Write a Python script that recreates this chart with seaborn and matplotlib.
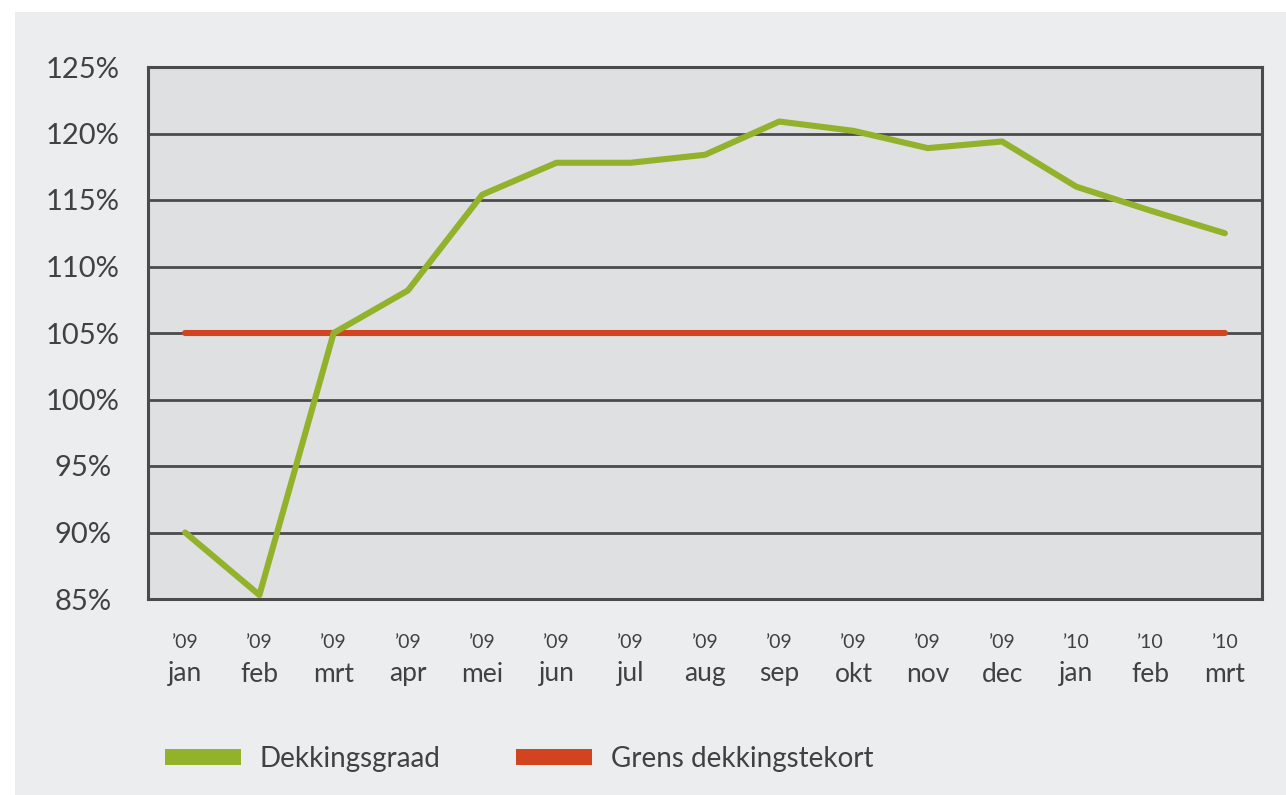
#!/usr/bin/env python

"""
Dekkingsgraad per maand vs grens dekkingstekort
"""

import numpy as np
import pandas as pd
import matplotlib
matplotlib.use("Agg")
import matplotlib.pyplot as plt
import matplotlib.transforms as mtransforms
from matplotlib.lines import Line2D
from matplotlib.patches import Rectangle
import seaborn as sns

months = ["jan", "feb", "mrt", "apr", "mei", "jun", "jul", "aug",
          "sep", "okt", "nov", "dec", "jan", "feb", "mrt"]
years = ["\u201909"] * 12 + ["\u201910"] * 3
dekkingsgraad = [90.0, 85.3, 105.0, 108.2, 115.4, 117.8, 117.8, 118.4,
                 120.9, 120.2, 118.9, 119.4, 116.0, 114.2, 112.5]
grens = [105.0] * 15
yticks = [85, 90, 95, 100, 105, 110, 115, 120, 125]


def main():

    sns.set_style("white")
    plt.rcParams['font.family'] = ["Lato", "DejaVu Sans"]

    almost_black = '#414143'
    line_dark = '#4b4b4d'
    green = '#93b22b'
    red = '#d1441f'

    df = pd.DataFrame({"pos": np.arange(len(months)),
                       "Dekkingsgraad": dekkingsgraad,
                       "Grens dekkingstekort": grens})

    fig = plt.figure(figsize=(12.86, 7.95), dpi=100, facecolor="white")
    # light grey panel behind everything
    fig.patches.append(Rectangle((15 / 1286, 0), 1 - 15 / 1286,
                                 1 - 12 / 795, transform=fig.transFigure,
                                 facecolor="#ecedef", edgecolor="none",
                                 zorder=-10))

    ax = fig.add_axes([148 / 1286, 1 - 599 / 795,
                       (1262 - 148) / 1286, (599 - 67) / 795])
    ax.set_facecolor("#dfe0e2")

    sns.lineplot(x="pos", y="Grens dekkingstekort", data=df, ax=ax,
                 color=red, lw=4.4, zorder=3)
    sns.lineplot(x="pos", y="Dekkingsgraad", data=df, ax=ax,
                 color=green, lw=4.4, zorder=4)

    ax.set_xlim(-0.5, len(months) - 0.5)
    ax.set_ylim(85, 125)

    for y in yticks:
        ax.axhline(y, color=line_dark, lw=2.0, zorder=1)

    for s in ax.spines.values():
        s.set_color(line_dark)
        s.set_linewidth(2.2)

    ax.set_yticks(yticks)
    ax.set_yticklabels(["%d%%" % v for v in yticks])
    ax.tick_params(axis="y", length=0, pad=47, labelsize=21,
                   labelcolor=almost_black)
    for lab in ax.get_yticklabels():
        lab.set_horizontalalignment("center")

    # month labels on major ticks, boundary marks on minor ticks
    ax.set_xticks(np.arange(len(months)))
    ax.set_xticklabels(months)
    ax.tick_params(axis="x", which="major", length=0, pad=45,
                   labelsize=19, labelcolor=almost_black)
    ax.set_xticks(np.arange(len(months) + 1) - 0.5, minor=True)
    ax.tick_params(axis="x", which="minor", length=17, width=2.2,
                   color=line_dark, direction="out")

    trans = mtransforms.blended_transform_factory(ax.transData,
                                                  fig.transFigure)
    for i, yr in enumerate(years):
        ax.text(i, 1 - 642 / 795, yr, transform=trans, ha="center",
                va="center", fontsize=14, color=almost_black)

    ax.set_xlabel("")
    ax.set_ylabel("")
    if ax.get_legend() is not None:
        ax.get_legend().remove()

    handles = [Line2D([], [], color=green, lw=11.5, solid_capstyle="butt"),
               Line2D([], [], color=red, lw=11.5, solid_capstyle="butt")]
    fig.legend(handles, ["Dekkingsgraad", "Grens dekkingstekort"],
               loc="center left", bbox_to_anchor=(165 / 1286, 1 - 759 / 795),
               ncol=2, frameon=False, fontsize=20, handlelength=2.73,
               handletextpad=0.68, columnspacing=2.73, borderpad=0,
               borderaxespad=0, labelcolor=almost_black)

    fig.savefig("out.png", dpi=100, facecolor=fig.get_facecolor())


if __name__ == "__main__":

    main()
